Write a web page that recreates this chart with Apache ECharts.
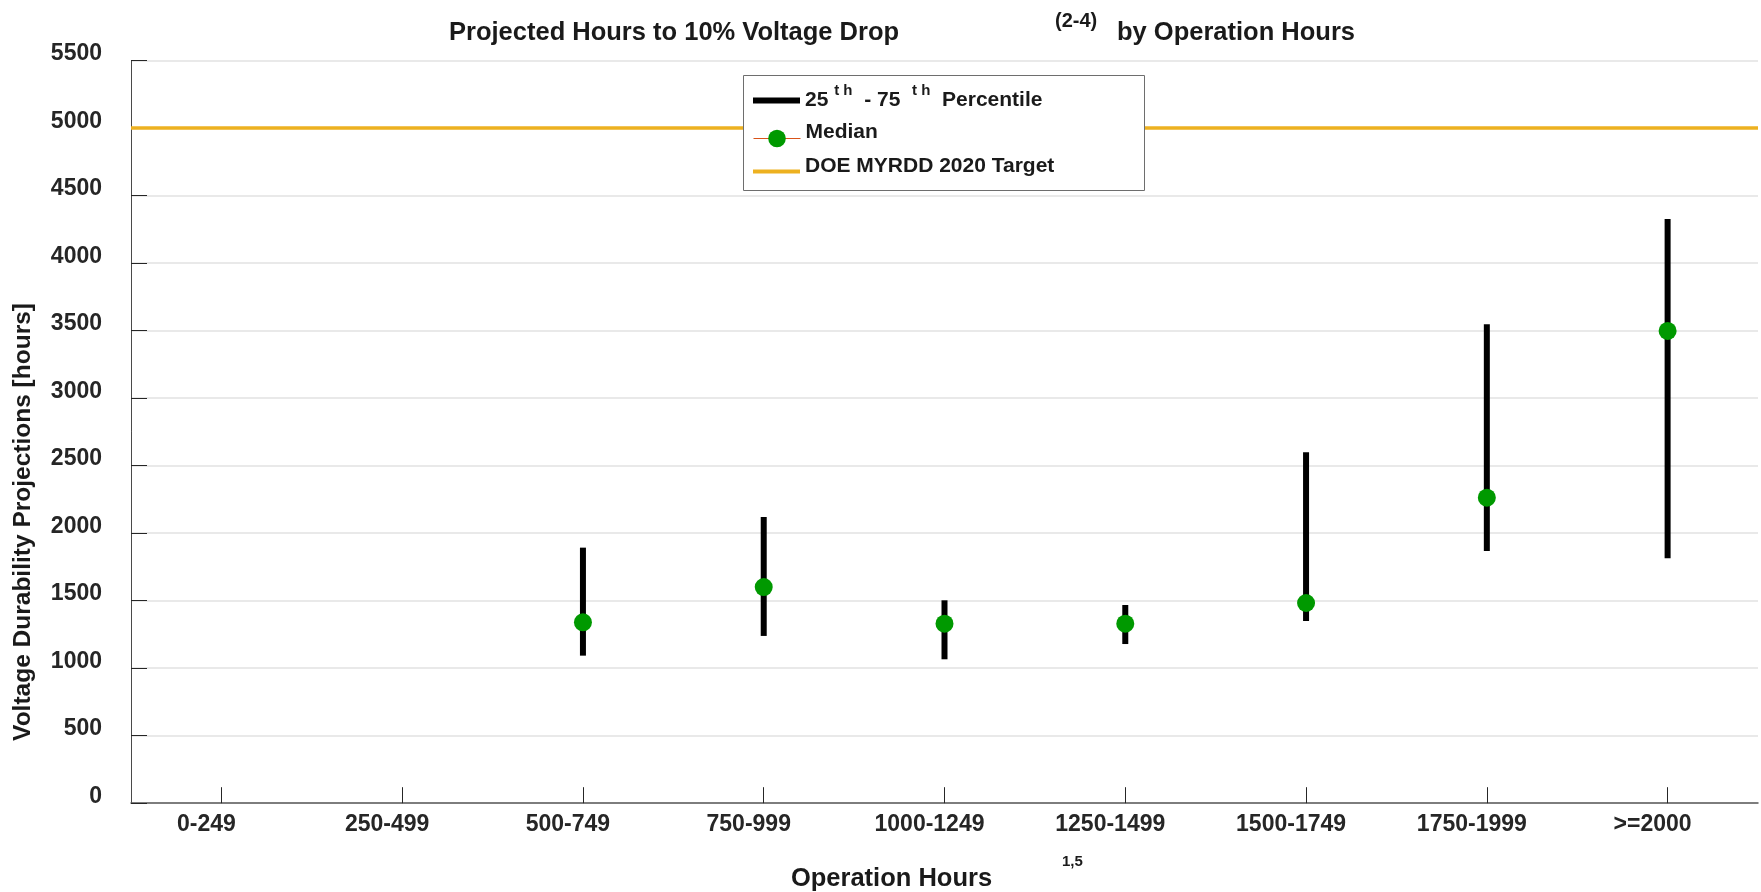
<!DOCTYPE html>
<html><head><meta charset="utf-8">
<script src="https://cdn.jsdelivr.net/npm/echarts@6/dist/echarts.min.js"></script>
<style>html,body{margin:0;padding:0;background:#fff}#c{width:1761px;height:892px}</style>
</head><body><div id="c"></div>
<script>
// ---- data ----
const categories = ['0-249','250-499','500-749','750-999','1000-1249','1250-1499','1500-1749','1750-1999','>=2000'];
const p25 = [null, null, 1093, 1239, 1066, 1179, 1350, 1868, 1814];
const p75 = [null, null, 1893, 2120, 1503, 1468, 2599, 3547, 4327];
const median = [null, null, 1340, 1601, 1330, 1330, 1483, 2263, 3498];
const targetLine = [5000];
const yMin = 0, yMax = 5500, yStep = 500;

const F = '"Liberation Sans", Arial, sans-serif';
const TXT = '#1a1a1a';

const rangeData = categories.map((c, i) => p25[i] == null ? null : [i, p25[i], p75[i]]).filter(Boolean);
const medianData = median.map(v => v == null ? '-' : v);

const chart = echarts.init(document.getElementById('c'), null, {renderer: 'canvas'});
chart.setOption({
  animation: false,
  backgroundColor: '#fff',
  title: [
    {text: 'Projected Hours to 10% Voltage Drop', left: 449, top: 20, padding: 0,
     textStyle: {fontFamily: F, fontWeight: 'bold', fontSize: 25.5, color: TXT}},
    {text: '(2-4)', left: 1055, top: 11, padding: 0,
     textStyle: {fontFamily: F, fontWeight: 'bold', fontSize: 20, color: TXT}},
    {text: 'by Operation Hours', left: 1117, top: 20, padding: 0,
     textStyle: {fontFamily: F, fontWeight: 'bold', fontSize: 25.5, color: TXT}},
    {text: '1,5', left: 1062, top: 854, padding: 0,
     textStyle: {fontFamily: F, fontWeight: 'bold', fontSize: 15, color: TXT}}
  ],
  grid: {left: 131, right: 3, top: 60.7, bottom: 88.8, containLabel: false, outerBoundsMode: 'none'},
  legend: [
    {data: ['25th - 75th Percentile'], orient: 'vertical', left: 753, top: 83, padding: 0, z: 20,
     icon: 'rect', itemWidth: 47, itemHeight: 6, itemGap: 0,
     formatter: () => '25 {sup|t h}  - 75  {sup|t h}  Percentile',
     textStyle: {fontFamily: F, fontWeight: 'bold', fontSize: 21, color: TXT,
       rich: {sup: {fontFamily: F, fontWeight: 'bold', fontSize: 15, color: TXT, padding: [0, 0, 20, 0]}}}},
    {data: ['Median'], orient: 'vertical', left: 753, top: 122, padding: 0, z: 20,
     itemWidth: 47, itemHeight: 22,
     lineStyle: {color: '#D95319', width: 1, opacity: 1},
     formatter: n => '{a|' + n + '}',
     textStyle: {fontFamily: F, fontWeight: 'bold', fontSize: 21, color: TXT,
       rich: {a: {fontFamily: F, fontWeight: 'bold', fontSize: 21, color: TXT, padding: [0, 0, 12, 0]}}}},
    {data: ['DOE MYRDD 2020 Target'], orient: 'vertical', left: 753, top: 156, padding: 0, z: 20,
     icon: 'rect', itemWidth: 47, itemHeight: 4,
     itemStyle: {color: '#EDB120'},
     formatter: n => '{a|' + n + '}',
     textStyle: {fontFamily: F, fontWeight: 'bold', fontSize: 21, color: TXT,
       rich: {a: {fontFamily: F, fontWeight: 'bold', fontSize: 21, color: TXT, padding: [0, 0, 10, 0]}}}}
  ],
  graphic: [
    {type: 'rect', z: 10, shape: {x: 743.5, y: 75.5, width: 401, height: 115},
     style: {fill: '#fff', stroke: '#6e6e6e', lineWidth: 1}}
  ],
  xAxis: {
    type: 'category', data: categories, boundaryGap: true,
    name: 'Operation Hours', nameLocation: 'middle', nameGap: 63,
    nameTextStyle: {fontFamily: F, fontWeight: 'bold', fontSize: 25.5, color: TXT, padding: [0, 106, 0, 0]},
    axisLine: {show: true, lineStyle: {color: '#5a5a5a', width: 1.5}},
    axisTick: {show: true, inside: true, alignWithLabel: true, interval: 0, length: 16, lineStyle: {color: '#262626', width: 1}},
    axisLabel: {interval: 0, hideOverlap: false, fontFamily: F, fontWeight: 'bold', fontSize: 23, color: '#262626', margin: 10,
      formatter: v => '{a|' + v + '}{g|}',
      rich: {a: {fontFamily: F, fontWeight: 'bold', fontSize: 23, color: '#262626'}, g: {width: 30}}},
    splitLine: {show: false}
  },
  yAxis: {
    type: 'value', min: yMin, max: yMax, interval: yStep,
    name: 'Voltage Durability Projections [hours]', nameLocation: 'middle', nameGap: 95,
    nameTextStyle: {fontFamily: F, fontWeight: 'bold', fontSize: 24.5, color: TXT, padding: [0, 180, 0, 0]},
    axisLine: {show: true, lineStyle: {color: '#4a4a4a', width: 1}},
    axisTick: {show: true, inside: true, length: 16, lineStyle: {color: '#262626', width: 1}},
    axisLabel: {fontFamily: F, fontWeight: 'bold', fontSize: 23, color: '#262626', margin: 29,
      verticalAlign: 'bottom', lineHeight: 14, formatter: v => String(v)},
    splitLine: {show: true, lineStyle: {color: '#e2e2e2', width: 1.5}}
  },
  series: [
    {
      name: '25th - 75th Percentile', type: 'custom', z: 3,
      itemStyle: {color: '#000'},
      encode: {x: 0, y: [1, 2]},
      data: rangeData,
      renderItem: (params, api) => {
        const x = api.value(0);
        const a = api.coord([x, api.value(1)]);
        const b = api.coord([x, api.value(2)]);
        return {type: 'line', shape: {x1: a[0], y1: a[1], x2: b[0], y2: b[1]},
                style: {stroke: '#000', lineWidth: 6}};
      }
    },
    {
      name: 'Median', type: 'line', z: 4, data: medianData,
      symbol: 'circle', symbolSize: 18, showSymbol: true,
      itemStyle: {color: '#009900'},
      lineStyle: {width: 0, opacity: 0}
    },
    {
      name: 'DOE MYRDD 2020 Target', type: 'line', z: 2, data: [],
      symbol: 'none', lineStyle: {color: '#EDB120', width: 3},
      itemStyle: {color: '#EDB120'},
      markLine: {silent: true, symbol: 'none', label: {show: false},
        lineStyle: {color: '#EDB120', width: 3.5, type: 'solid'},
        data: targetLine.map(v => ({yAxis: v}))}
    }
  ]
});
</script></body></html>
